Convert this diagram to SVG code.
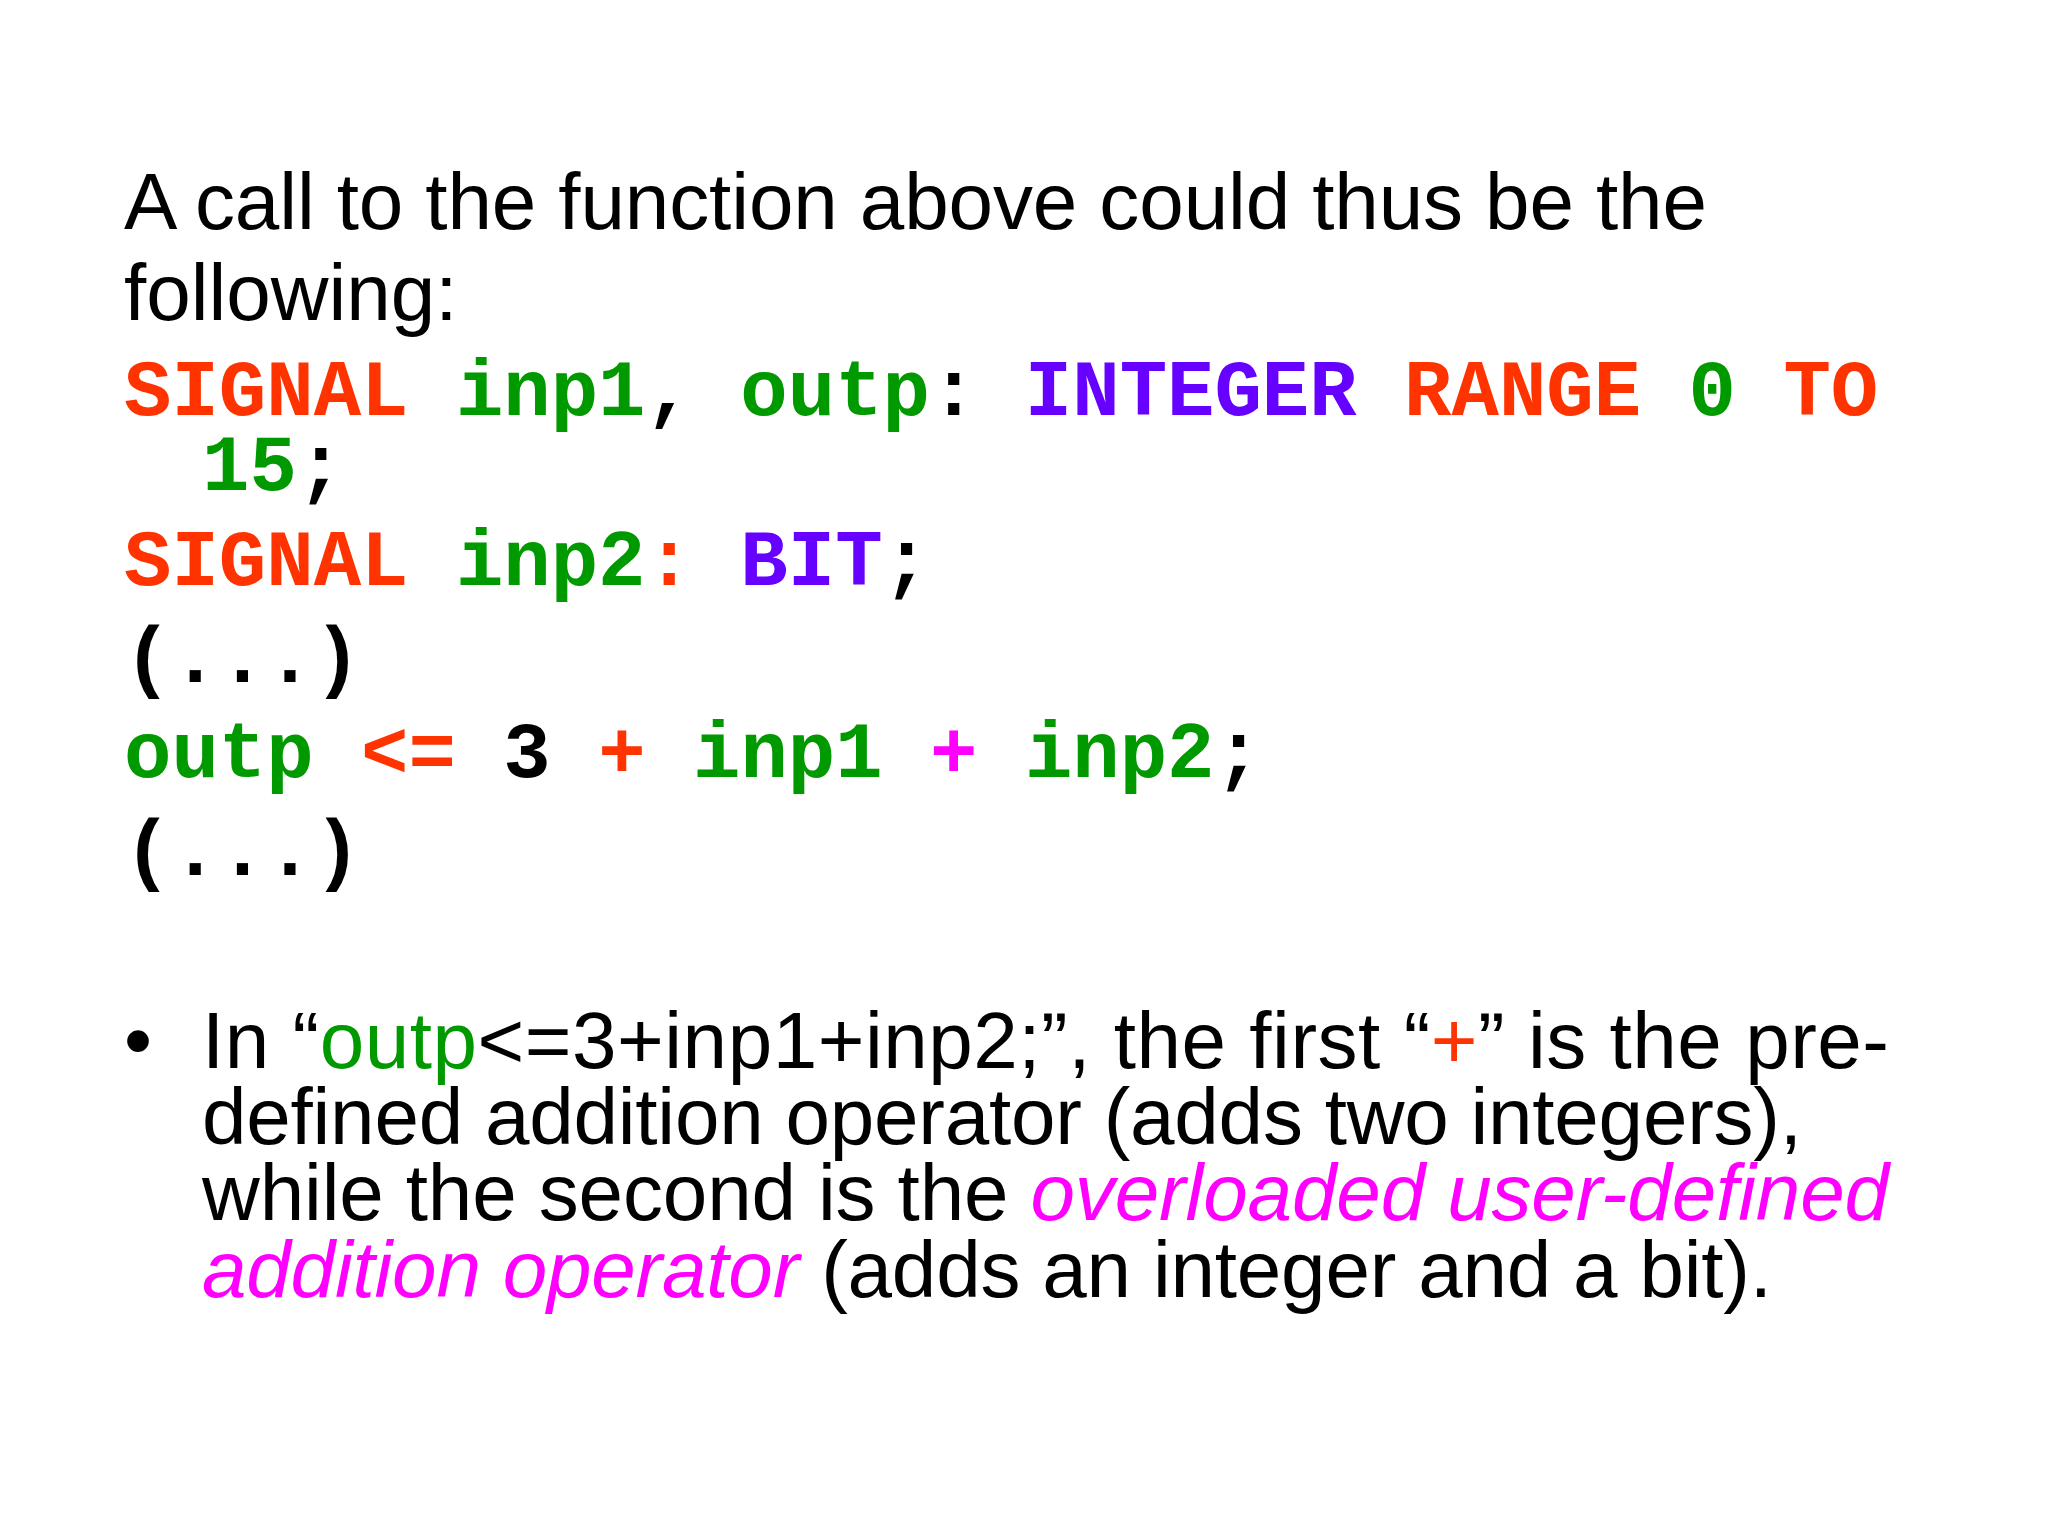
<svg xmlns="http://www.w3.org/2000/svg" width="2048" height="1536" viewBox="0 0 2048 1536">
<style>
.s{font-family:"Liberation Sans",Arial,sans-serif;font-size:80px;fill:#000}
.c{font-family:"Liberation Mono","Courier New",monospace;font-size:79px;font-weight:bold;fill:#000}
.r{fill:#FF3300}.g{fill:#009900}.p{fill:#6600FF}.m{fill:#FF00FF}
</style>
<rect width="2048" height="1536" fill="#fff"/>
<g id="intro">
<text class="s" x="124" y="229" textLength="1583" lengthAdjust="spacing">A call to the function above could thus be the</text>
<text class="s" x="124" y="320">following:</text>
</g>
<g id="code" xml:space="preserve">
<text class="c" x="124" y="415"><tspan class="r">SIGNAL</tspan> <tspan class="g">inp1</tspan>, <tspan class="g">outp</tspan>: <tspan class="p">INTEGER</tspan> <tspan class="r">RANGE</tspan> <tspan class="g">0</tspan> <tspan class="r">TO</tspan></text>
<text class="c" x="202" y="490"><tspan class="g">15</tspan>;</text>
<text class="c" x="124" y="585"><tspan class="r">SIGNAL</tspan> <tspan class="g">inp2</tspan><tspan class="r">:</tspan> <tspan class="p">BIT</tspan>;</text>
<text class="c" x="124" y="682">(...)</text>
<text class="c" x="124" y="777"><tspan class="g">outp</tspan> <tspan class="r">&lt;=</tspan> 3 <tspan class="r">+</tspan> <tspan class="g">inp1</tspan> <tspan class="m">+</tspan> <tspan class="g">inp2</tspan>;</text>
<text class="c" x="124" y="875">(...)</text>
</g>
<g id="bullet">
<text class="s" x="124" y="1068">•</text>
<text class="s" x="202" y="1068" textLength="1687" lengthAdjust="spacing">In “<tspan class="g">outp</tspan>&lt;=3+inp1+inp2;”, the first “<tspan class="r">+</tspan>” is the pre-</text>
<text class="s" x="202" y="1144" textLength="1600" lengthAdjust="spacing">defined addition operator (adds two integers),</text>
<text class="s" x="202" y="1220" textLength="1687" lengthAdjust="spacing">while the second is the <tspan class="m" font-style="italic">overloaded user-defined</tspan></text>
<text class="s" x="202" y="1297" textLength="1570" lengthAdjust="spacing"><tspan class="m" font-style="italic">addition operator</tspan> (adds an integer and a bit).</text>
</g>
</svg>
